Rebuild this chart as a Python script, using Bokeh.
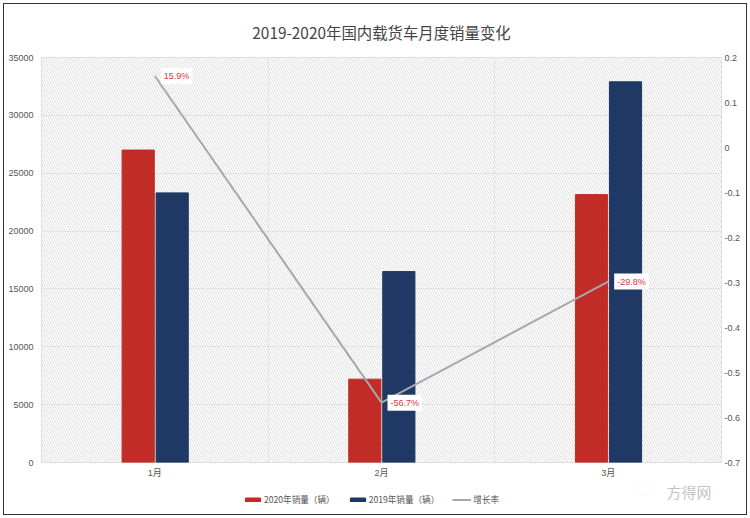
from bokeh.embed import file_html
from bokeh.resources import INLINE
from bokeh.layouts import column
from bokeh.models import (ColumnDataSource, FixedTicker, LinearAxis, Range1d, Label,
                          Legend, LegendItem, BoxAnnotation)
from bokeh.plotting import figure
import numpy as np

categories = ["1月", "2月", "3月"]
sales_2020 = [27000, 7200, 23150]
sales_2019 = [23300, 16500, 32900]
growth = [0.159, -0.567, -0.298]
growth_labels = ["15.9%", "-56.7%", "-29.8%"]
left_ticks = [0, 5000, 10000, 15000, 20000, 25000, 30000, 35000]
right_ticks = [-0.7, -0.6, -0.5, -0.4, -0.3, -0.2, -0.1, 0, 0.1, 0.2]
right_labels = ["-0.7", "-0.6", "-0.5", "-0.4", "-0.3", "-0.2", "-0.1", "0", "0.1", "0.2"]
series_names = ["2020年销量（辆）", "2019年销量（辆）", "增长率"]

FONT = "Noto Sans CJK SC"
TICK_FONT = "Liberation Sans, Noto Sans CJK SC"
RED, BLUE, GREY = "#c12c27", "#1f3864", "#aaa6ab"

x = np.arange(len(categories)) + 0.5
src = ColumnDataSource(dict(x=x, x20=x - 0.0735, x19=x + 0.0765,
                            s20=sales_2020, s19=sales_2019, g=growth))

p = figure(width=750, height=480, frame_width=680, frame_height=405,
           x_range=Range1d(0, 3), y_range=Range1d(0, 35000),
           output_backend="svg", toolbar_location=None, border_fill_color=None,
           min_border_left=41, min_border_right=29, min_border_top=57, min_border_bottom=15)
p.extra_y_ranges = {"rate": Range1d(-0.7, 0.2)}

p.title.text = "2019-2020年国内载货车月度销量变化"
p.title.align = "center"
p.title.text_font = FONT
p.title.text_font_size = "15.4px"
p.title.text_font_style = "normal"
p.title.text_color = "#444444"
p.title.standoff = 30

p.background_fill_color = "white"
p.outline_line_color = "#dddddd"

# hatched plot background, drawn under the grid
p.add_layout(BoxAnnotation(left=0, right=3, bottom=0, top=35000, level="underlay",
                           fill_color="white", line_color=None,
                           hatch_pattern="left_diagonal_line", hatch_color="#d9d9d9",
                           hatch_scale=5, hatch_weight=0.9))

p.xgrid.ticker = FixedTicker(ticks=[1, 2])
p.xgrid.grid_line_color = "#dddddd"
p.ygrid.ticker = FixedTicker(ticks=left_ticks)
p.ygrid.grid_line_color = "#d8d6da"

for ax in (p.xaxis[0], p.yaxis[0]):
    ax.axis_line_color = None
    ax.major_tick_line_color = None
    ax.minor_tick_line_color = None
    ax.major_tick_out = 0
    ax.major_label_text_font = TICK_FONT
    ax.major_label_text_font_size = "9px"
    ax.major_label_text_color = "#555555"
p.xaxis[0].ticker = FixedTicker(ticks=list(x))
p.xaxis[0].major_label_overrides = {float(v): c for v, c in zip(x, categories)}
p.xaxis[0].major_label_standoff = 5
p.yaxis[0].ticker = FixedTicker(ticks=left_ticks)
p.yaxis[0].major_label_standoff = 8

right = LinearAxis(y_range_name="rate", ticker=FixedTicker(ticks=right_ticks),
                   major_label_overrides={float(v): s for v, s in zip(right_ticks, right_labels)},
                   axis_line_color=None, major_tick_line_color=None, minor_tick_line_color=None,
                   major_tick_out=0,
                   major_label_text_font=TICK_FONT, major_label_text_font_size="9px",
                   major_label_text_color="#555555", major_label_standoff=3)
p.add_layout(right, "right")

p.vbar(x="x20", top="s20", width=0.142, color=RED, source=src)
p.vbar(x="x19", top="s19", width=0.142, color=BLUE, source=src)
p.line(x="x", y="g", y_range_name="rate", line_color=GREY, line_width=2, source=src)

for xv, g, t in zip(x, growth, growth_labels):
    p.add_layout(Label(x=float(xv), y=g, y_range_name="rate", text=t, x_offset=6, y_offset=0,
                       text_color="#d9363a", text_font=TICK_FONT, text_font_size="9px",
                       text_baseline="middle", background_fill_color="white", padding=3))

# Footer strip: the legend and the watermark live inside its own frame.
# Its glyphs sit off-range: they exist only to give the legend its swatches.
q = figure(width=750, height=38, x_range=Range1d(0, 750), y_range=Range1d(0, 38),
           output_backend="svg", toolbar_location=None, border_fill_color=None,
           background_fill_color=None, outline_line_color=None,
           x_axis_location=None, y_axis_location=None,
           min_border_left=0, min_border_right=0, min_border_top=0, min_border_bottom=0)
q.xgrid.visible = False
q.ygrid.visible = False
off = ColumnDataSource(dict(x=[-100, -100], y=[-100, -90]))
k20 = q.vbar(x="x", top="y", bottom=-200, width=1, color=RED, source=off)
k19 = q.vbar(x="x", top="y", bottom=-200, width=1, color=BLUE, source=off)
kl = q.line(x="x", y="y", line_color=GREY, line_width=2, source=off)
legend = Legend(items=[LegendItem(label=series_names[0], renderers=[k20]),
                       LegendItem(label=series_names[1], renderers=[k19]),
                       LegendItem(label=series_names[2], renderers=[kl])],
                orientation="horizontal", location=(202, 13),
                glyph_width=19, glyph_height=5, label_standoff=2, spacing=13,
                label_text_font=FONT, label_text_font_size="8.6px", label_text_color="#555555",
                border_line_color=None, background_fill_alpha=0, margin=0, padding=0)
q.add_layout(legend)

q.add_layout(Label(x=666, y=11, x_units="canvas", y_units="canvas", text="方得网",
                   text_font=FONT, text_font_size="15px", text_color="#c4c4c4", text_baseline="middle"))
q.add_layout(BoxAnnotation(left=636, right=652, top=1, bottom=15, left_units="canvas", right_units="canvas",
                           top_units="canvas", bottom_units="canvas", fill_alpha=0, border_radius=8,
                           line_color="#d8d8d8", line_width=1, line_dash="dotted"))

page = column(p, q, spacing=0, width=750, height=518,
              styles={"outline": "1.5px solid #333333", "outline-offset": "-4px"})

open("out.html", "w").write(file_html(page, INLINE))
